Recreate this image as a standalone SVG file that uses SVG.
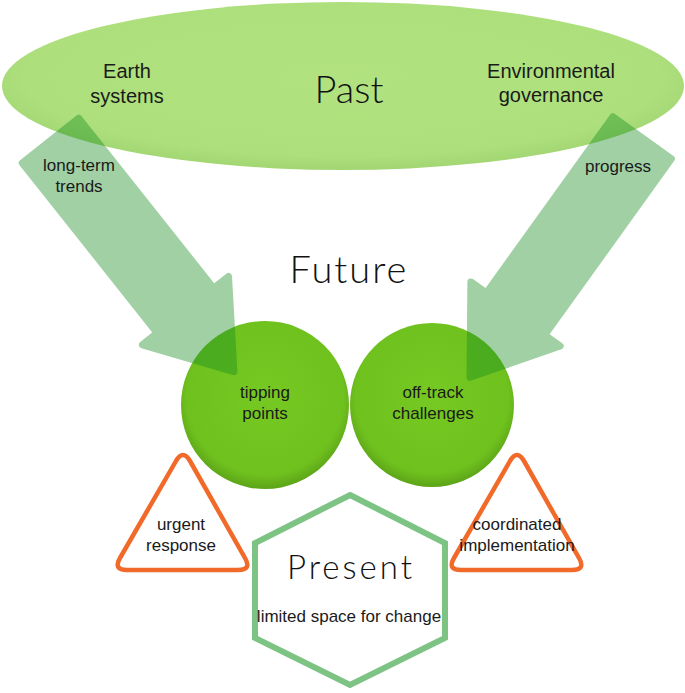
<svg xmlns="http://www.w3.org/2000/svg" width="685" height="693" viewBox="0 0 685 693">
<style>
.lbl{font-family:"Liberation Sans",Arial,sans-serif;fill:#1a1a1a;text-anchor:middle}
.top{font-size:20px}
.sm{font-size:17px}
.big{font-family:Lato,"Open Sans",sans-serif;font-weight:300;fill:#111;text-anchor:middle}
.tri{fill:#fff;stroke:#f26a2a;stroke-width:4.5;stroke-linejoin:round}
.arr{fill:#148c1e;stroke:#148c1e;stroke-width:7;stroke-linejoin:round}
</style>
<defs>
<radialGradient id="gEll" cx="0.5" cy="0.45" r="0.55">
<stop offset="0" stop-color="#b1e27f"/>
<stop offset="0.85" stop-color="#ade07c"/>
<stop offset="1" stop-color="#a2d672"/>
</radialGradient>
<radialGradient id="gCir" cx="0.5" cy="0.45" r="0.55">
<stop offset="0" stop-color="#76c922"/>
<stop offset="0.85" stop-color="#6fc11e"/>
<stop offset="1" stop-color="#5ca418"/>
</radialGradient>
<path id="arrowShape" d="M4,-36 L221,-36 L221,-55 L299,0 L221,55 L221,36 L4,36 Z"/>
</defs>

<g id="past">
<ellipse cx="343" cy="86" rx="341" ry="84" fill="url(#gEll)"/>
<text class="big" x="349" y="103" font-size="38">Past</text>
<text class="lbl top" x="127" y="78">Earth</text>
<text class="lbl top" x="127" y="103">systems</text>
<text class="lbl top" x="551" y="78">Environmental</text>
<text class="lbl top" x="551" y="102">governance</text>
</g>

<g id="future">
<text class="big" x="349" y="283" font-size="38" letter-spacing="2">Future</text>
</g>

<g id="tipping-points">
<circle cx="265" cy="405" r="84" fill="url(#gCir)"/>
<text class="lbl sm" x="265" y="398">tipping</text>
<text class="lbl sm" x="265" y="419">points</text>
</g>

<g id="off-track-challenges">
<circle cx="432" cy="405" r="82" fill="url(#gCir)"/>
<text class="lbl sm" x="433" y="398">off-track</text>
<text class="lbl sm" x="433" y="419">challenges</text>
</g>

<g id="connectors">
<g opacity="0.4">
<use href="#arrowShape" class="arr" transform="translate(48,137.5) rotate(51.55)"/>
</g>
<g opacity="0.4">
<use href="#arrowShape" class="arr" transform="translate(644.5,134.5) rotate(125.7)"/>
</g>
<text class="lbl sm" x="79" y="171">long-term</text>
<text class="lbl sm" x="79" y="192">trends</text>
<text class="lbl sm" x="618" y="172">progress</text>
</g>

<g id="urgent-response">
<path class="tri" d="M176,461 Q183,449 190,461 L245,558 Q252,570 238,570 L127,570 Q113,570 120,558 Z"/>
<text class="lbl sm" x="181" y="530">urgent</text>
<text class="lbl sm" x="181" y="551">response</text>
</g>

<g id="coordinated-implementation">
<path class="tri" d="M510,461 Q517,449 524,461 L579,558 Q586,570 572,570 L461,570 Q447,570 454,558 Z"/>
<text class="lbl sm" x="517" y="530">coordinated</text>
<text class="lbl sm" x="517" y="551">implementation</text>
</g>

<g id="present">
<polygon points="350,495 445,543 445,638 350,685 255,638 255,543" fill="#fff" stroke="#7dc383" stroke-width="6" stroke-linejoin="miter"/>
<text class="big" x="351" y="579" font-size="33" letter-spacing="3">Present</text>
<text class="lbl sm" x="349" y="622">limited space for change</text>
</g>
</svg>
